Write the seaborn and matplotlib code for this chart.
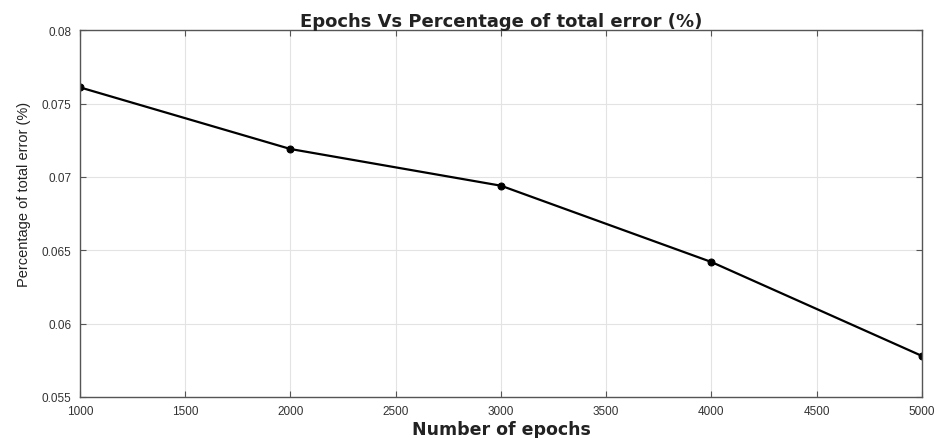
import numpy as np
import pandas as pd
import matplotlib
matplotlib.use("Agg")
import matplotlib.pyplot as plt
import seaborn as sns

# -------------------------------
# Data
# -------------------------------
epochs = [1000, 2000, 3000, 4000, 5000]
error_pct = [0.0761, 0.0719, 0.0694, 0.0642, 0.0578]

x_ticks = [1000, 1500, 2000, 2500, 3000, 3500, 4000, 4500, 5000]
y_ticks = [0.055, 0.06, 0.065, 0.07, 0.075, 0.08]
y_tick_labels = ["0.055", "0.06", "0.065", "0.07", "0.075", "0.08"]

df = pd.DataFrame({"epochs": epochs, "error": error_pct})

# -------------------------------
# Plot
# -------------------------------
sns.set_style("whitegrid")
plt.rcParams["font.family"] = ["Liberation Sans", "DejaVu Sans"]

fig, ax = plt.subplots(figsize=(9.34, 4.39), dpi=100)
fig.subplots_adjust(left=0.0857, right=0.987, top=0.929, bottom=0.0934)

sns.lineplot(data=df, x="epochs", y="error", ax=ax, color="black",
             linewidth=1.6, marker="o", markersize=5,
             markeredgecolor="black", markerfacecolor="black")

ax.set_xlim(1000, 5000)
ax.set_ylim(0.055, 0.08)
ax.set_xticks(x_ticks)
ax.set_xticklabels([str(t) for t in x_ticks])
ax.set_yticks(y_ticks)
ax.set_yticklabels(y_tick_labels)

ax.grid(True, color="#e3e3e3", linewidth=0.8)
for side in ["left", "right", "top", "bottom"]:
    ax.spines[side].set_visible(True)
    ax.spines[side].set_color("#555555")
    ax.spines[side].set_linewidth(1.0)

ax.tick_params(axis="both", which="both", direction="in", length=4,
               color="#555555", labelsize=8.5, labelcolor="#333333",
               top=True, right=True, bottom=True, left=True)
ax.tick_params(axis="x", pad=6)
ax.tick_params(axis="y", pad=6)

ax.set_title("Epochs Vs Percentage of total error (%)", fontsize=13,
             fontweight="bold", family="DejaVu Sans", color="#222222", pad=3)
ax.set_xlabel("Number of epochs", fontsize=12.5, fontweight="bold",
              family="DejaVu Sans", color="#222222", labelpad=2)
ax.set_ylabel("Percentage of total error (%)", fontsize=10.5,
              color="#222222")
ax.yaxis.set_label_coords(-0.058, 0.555)

plt.savefig("out.png", dpi=100)
